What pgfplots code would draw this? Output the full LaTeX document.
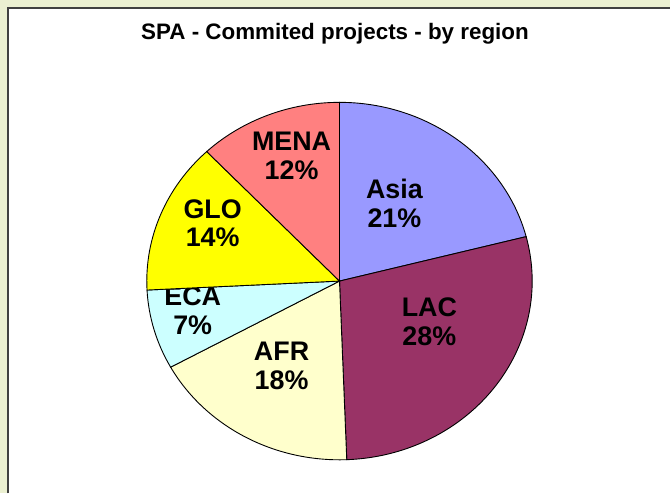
\documentclass[border=0pt]{standalone}
\usepackage{pgfplots}
\usepackage{pgfplotstable}
\usepackage{fontspec}
\setmainfont{Liberation Sans}
\pgfplotsset{compat=1.18}

\definecolor{asia}{HTML}{9999FF}
\definecolor{lac}{HTML}{993366}
\definecolor{afr}{HTML}{FFFFCC}
\definecolor{eca}{HTML}{CCFFFF}
\definecolor{glo}{HTML}{FFFF00}
\definecolor{mena}{HTML}{FF8080}
\definecolor{outerbg}{HTML}{EBF0D1}
\definecolor{frame}{HTML}{404040}

% share of committed projects, clockwise from 12 o'clock
% lx, ly: label centre (picture units, y up)
\pgfplotstableread{
region value col  lx  ly
Asia   21.0  asia 395 290.5
LAC    28.4  lac  430 172
AFR    17.6  afr  282 127.5
ECA    7.2   eca  193 182.5
GLO    13.7  glo  213 270.5
MENA   12.1  mena 292 338
}\piedata

\begin{document}
\begin{tikzpicture}
\begin{axis}[
    scale only axis,
    width=671bp, height=494bp,
    xmin=0, xmax=671, ymin=0, ymax=494,
    hide axis,
    clip=false,
]
% chart area
\fill[outerbg] (axis cs:0,0) rectangle (axis cs:671,494);
\fill[white] (axis cs:8.3,0) rectangle (axis cs:671,485.7);
\draw[frame, line width=2bp] (axis cs:8.3,0) -- (axis cs:8.3,485.7) -- (axis cs:671,485.7);

\node[anchor=base, font=\bfseries\fontsize{22.5}{25}\selectfont]
    at (axis cs:335.5,454) {SPA - Commited projects - by region};

\def\startang{90}
\pgfplotsforeachungrouped \i in {0,...,5}{%
    \pgfplotstablegetelem{\i}{value}\of\piedata \let\v\pgfplotsretval
    \pgfplotstablegetelem{\i}{col}\of\piedata \let\c\pgfplotsretval
    \pgfplotstablegetelem{\i}{region}\of\piedata \let\r\pgfplotsretval
    \pgfplotstablegetelem{\i}{lx}\of\piedata \let\lx\pgfplotsretval
    \pgfplotstablegetelem{\i}{ly}\of\piedata \let\ly\pgfplotsretval
    \pgfmathsetmacro\endang{\startang-3.6*\v}
    \pgfmathtruncatemacro\pct{round(\v)}
    \edef\slice{%
        \noexpand\filldraw[fill=\c, draw=black, line width=0.9bp]
            (axis cs:340,212.5) -- ++(\startang:193bp and 179bp)
            arc[start angle=\startang, end angle=\endang,
                x radius=193bp, y radius=179bp] -- cycle;
        \noexpand\node[align=center,
            font=\noexpand\bfseries\noexpand\fontsize{27}{29}\noexpand\selectfont]
            at (axis cs:\lx,\ly) {\r\noexpand\\\pct\noexpand\%};
    }%
    \slice
    \global\let\startang\endang
}
\end{axis}
\end{tikzpicture}
\end{document}
